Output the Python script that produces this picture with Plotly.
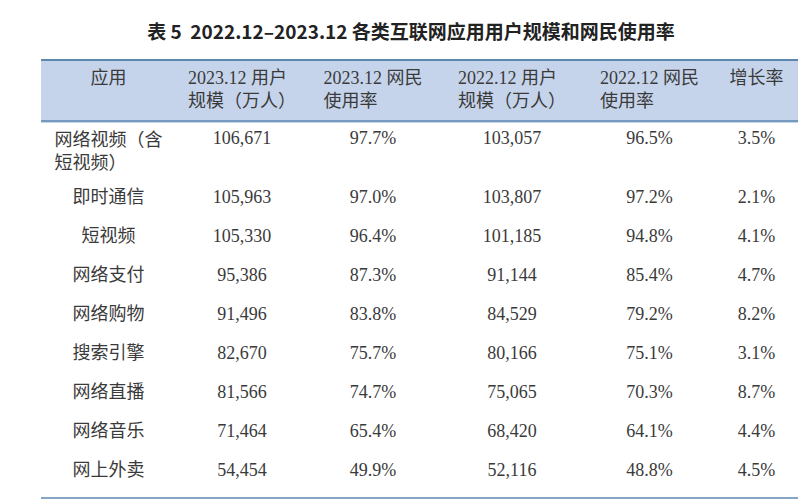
import plotly.graph_objects as go

W, H = 806, 499

headers = ["<br>应用", "2023.12 用户<br>规模（万人）", "2023.12 网民<br>使用率",
           "2022.12 用户<br>规模（万人）", "2022.12 网民<br>使用率", "<br>增长率"]
apps = ["网络视频（含<br>短视频）", "即时通信", "短视频", "网络支付", "网络购物",
        "搜索引擎", "网络直播", "网络音乐", "网上外卖"]
users_2023 = ["106,671", "105,963", "105,330", "95,386", "91,496",
              "82,670", "81,566", "71,464", "54,454"]
rate_2023 = ["97.7%", "97.0%", "96.4%", "87.3%", "83.8%",
             "75.7%", "74.7%", "65.4%", "49.9%"]
users_2022 = ["103,057", "103,807", "101,185", "91,144", "84,529",
              "80,166", "75,065", "68,420", "52,116"]
rate_2022 = ["96.5%", "97.2%", "94.8%", "85.4%", "79.2%",
             "75.1%", "70.3%", "64.1%", "48.8%"]
growth = ["3.5%", "2.1%", "4.1%", "4.7%", "8.2%", "3.1%", "8.7%", "4.4%", "4.5%"]

FONT = "Liberation Serif, Noto Sans CJK SC"
LINE = "#5b87b0"
x0, x1 = 33 / W, 792 / W
ytop = 1 - 52 / H

# first row wraps to two lines; other rows get vertically nudged via a small top padding
fig = go.Figure(go.Table(
    domain=dict(x=[x0, x1], y=[0, ytop]),
    columnwidth=[135, 132, 130, 148, 127, 87],
    header=dict(
        values=headers,
        fill_color="#c6d4eb",
        line_color="#c6d4eb",
        align="center",
        height=62,
        font=dict(family=FONT, size=18, color="#3a3a3a"),
    ),
    cells=dict(
        values=[apps, users_2023, rate_2023, users_2022, rate_2022, growth],
        fill_color="white",
        line_color="white",
        align="center",
        height=39,
        font=dict(family=FONT, size=18, color="#3a3a3a"),
    ),
))

# horizontal rules
for y, w in [(52, 2), (113, 1.5), (490, 1.5)]:
    fig.add_shape(type="line", xref="paper", yref="paper",
                  x0=x0, x1=x1, y0=1 - y / H, y1=1 - y / H,
                  line=dict(color=LINE, width=w))

fig.update_layout(
    width=W, height=H,
    margin=dict(l=0, r=0, t=0, b=0),
    paper_bgcolor="white",
    title=dict(
        text="<b>表 5  2022.12–2023.12 各类互联网应用用户规模和网民使用率</b>",
        x=0.5, xanchor="center", y=1 - 24 / H, yanchor="middle",
        font=dict(family="Noto Sans CJK SC", size=19, color="#222"),
    ),
)

fig.write_html("out.html")
